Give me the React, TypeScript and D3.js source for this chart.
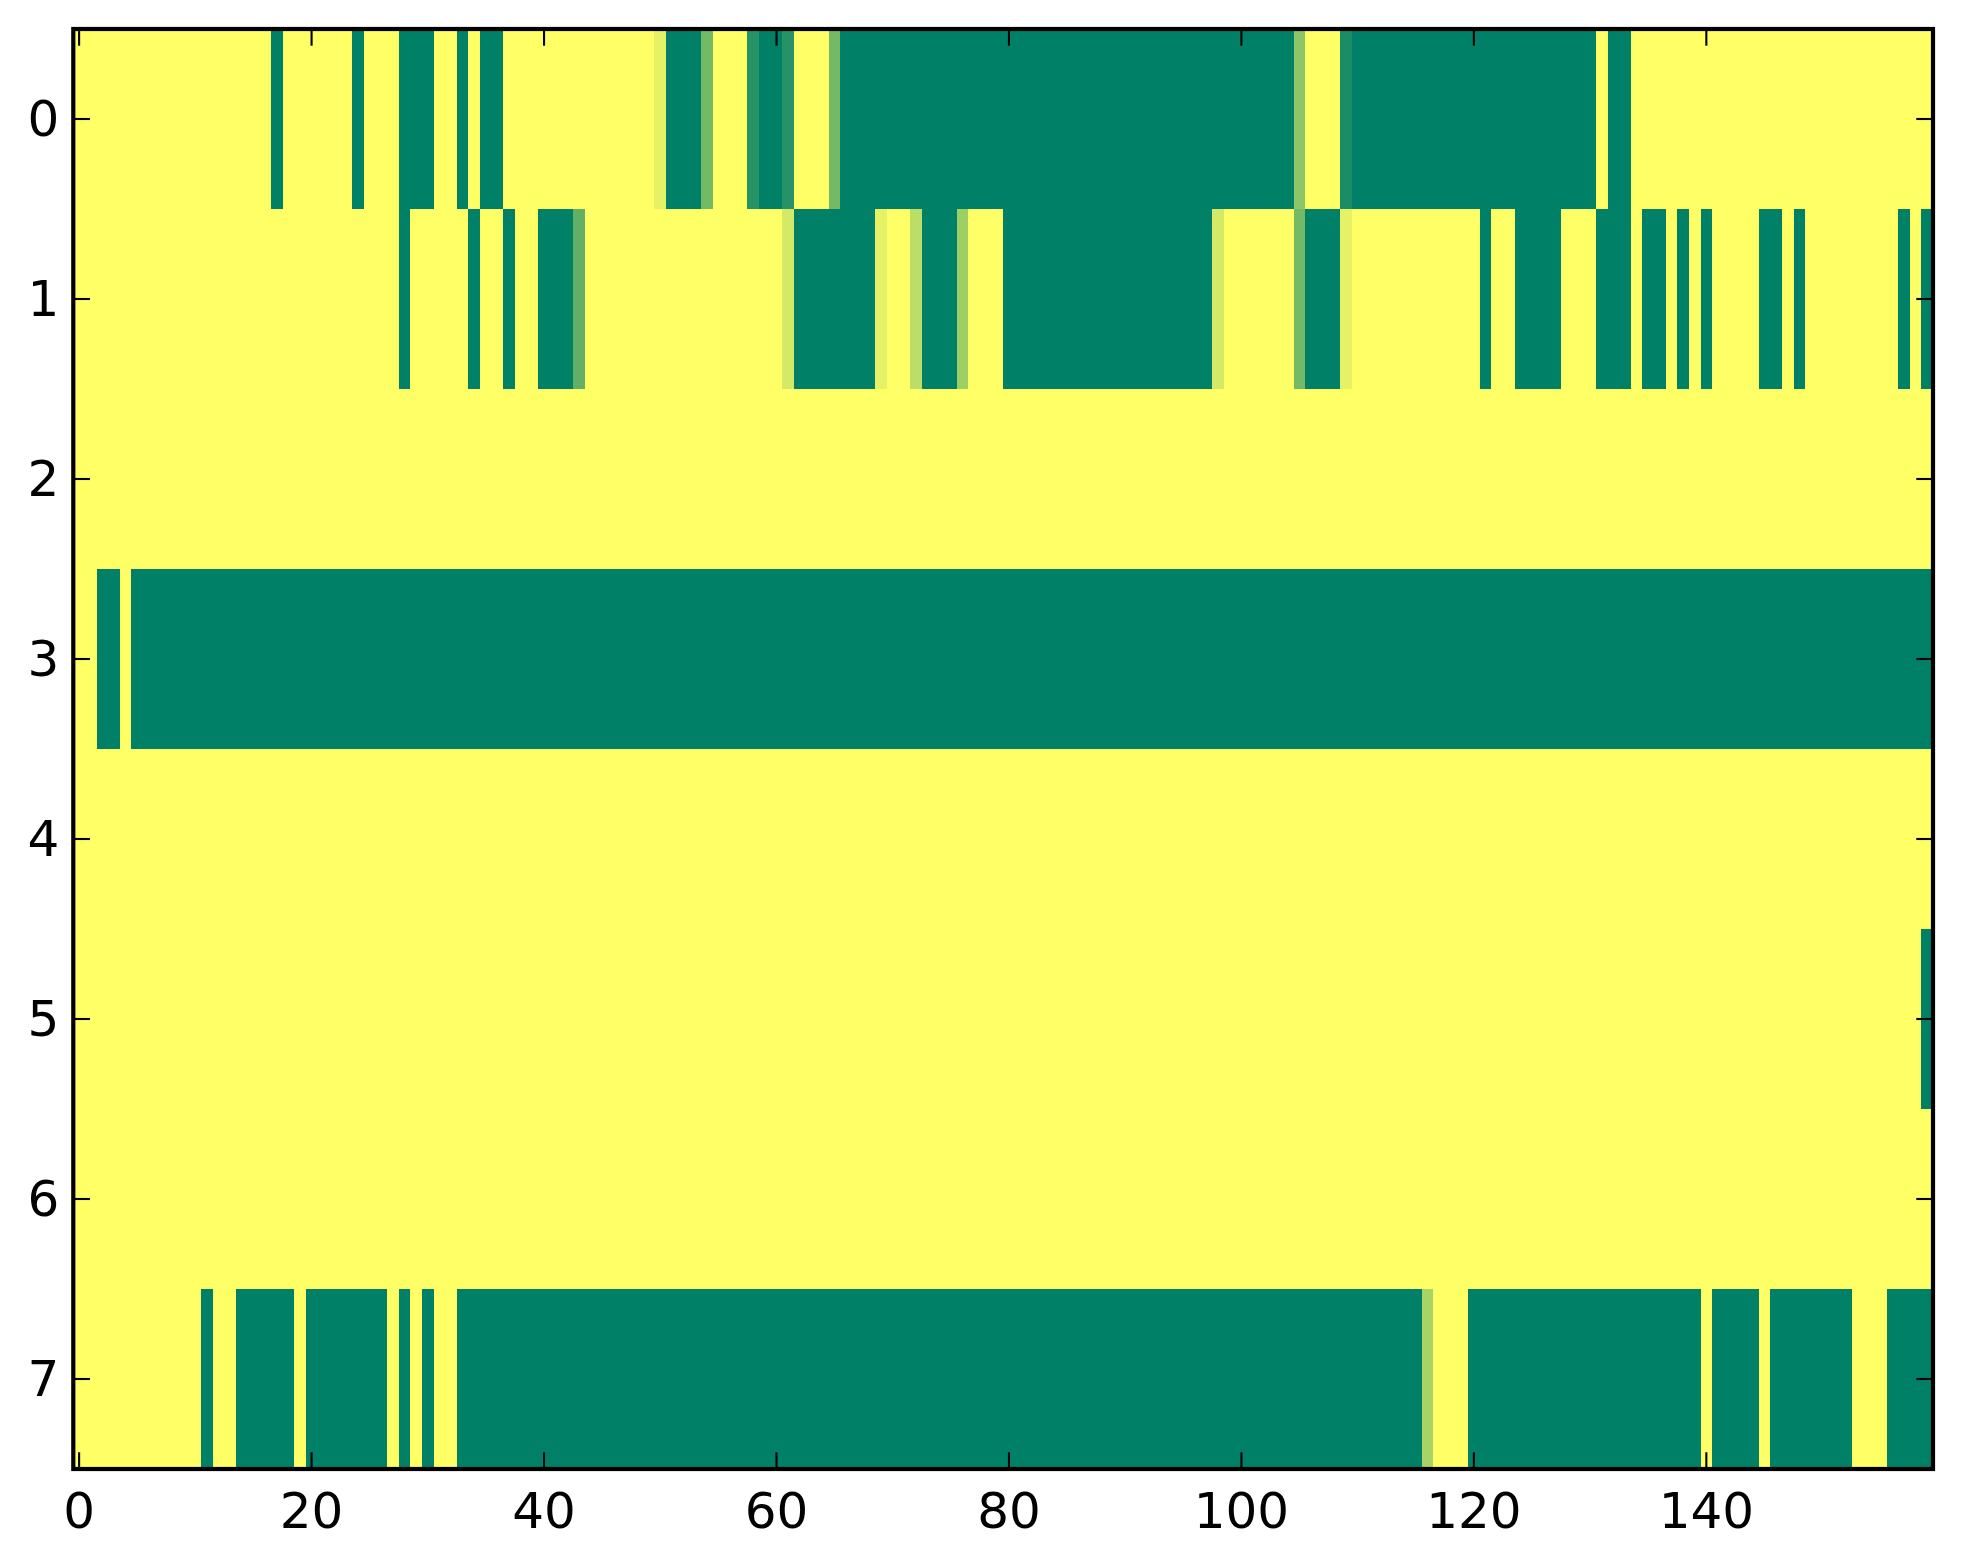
import React from "react";
import * as d3 from "d3";

// one array per image row, 160 columns each (0 = yellow, 1 = green)
const row0 = [
  0, 0, 0, 0, 0, 0, 0, 0, 0, 0, 0, 0, 0, 0, 0, 0, 0, 1, 0, 0,
  0, 0, 0, 0, 1, 0, 0, 0, 1, 1, 1, 0, 0, 1, 0, 1, 1, 0, 0, 0,
  0, 0, 0, 0, 0, 0, 0, 0, 0, 0, 0.1, 1, 1, 1, 0.55, 0, 0, 0, 0.85, 1,
  1, 0.85, 0, 0, 0, 0.55, 1, 1, 1, 1, 1, 1, 1, 1, 1, 1, 1, 1, 1, 1,
  1, 1, 1, 1, 1, 1, 1, 1, 1, 1, 1, 1, 1, 1, 1, 1, 1, 1, 1, 1,
  1, 1, 1, 1, 1, 0.45, 0, 0, 0, 0.9, 1, 1, 1, 1, 1, 1, 1, 1, 1, 1,
  1, 1, 1, 1, 1, 1, 1, 1, 1, 1, 1, 0, 1, 1, 0, 0, 0, 0, 0, 0,
  0, 0, 0, 0, 0, 0, 0, 0, 0, 0, 0, 0, 0, 0, 0, 0, 0, 0, 0, 0,
];
const row1 = [
  0, 0, 0, 0, 0, 0, 0, 0, 0, 0, 0, 0, 0, 0, 0, 0, 0, 0, 0, 0,
  0, 0, 0, 0, 0, 0, 0, 0, 1, 0, 0, 0, 0, 0, 1, 0, 0, 1, 0, 0,
  1, 1, 1, 0.62, 0, 0, 0, 0, 0, 0, 0, 0, 0, 0, 0, 0, 0, 0, 0, 0,
  0, 0.17, 1, 1, 1, 1, 1, 1, 1, 0.1, 0, 0, 0.26, 1, 1, 1, 0.38, 0, 0, 0,
  1, 1, 1, 1, 1, 1, 1, 1, 1, 1, 1, 1, 1, 1, 1, 1, 1, 1, 0.17, 0,
  0, 0, 0, 0, 0, 0.55, 1, 1, 1, 0.1, 0, 0, 0, 0, 0, 0, 0, 0, 0, 0,
  0, 1, 0, 0, 1, 1, 1, 1, 0, 0, 0, 1, 1, 1, 0, 1, 1, 0, 1, 0,
  1, 0, 0, 0, 0, 1, 1, 0, 1, 0, 0, 0, 0, 0, 0, 0, 0, 1, 0, 1,
];
const row2 = [
  0, 0, 0, 0, 0, 0, 0, 0, 0, 0, 0, 0, 0, 0, 0, 0, 0, 0, 0, 0,
  0, 0, 0, 0, 0, 0, 0, 0, 0, 0, 0, 0, 0, 0, 0, 0, 0, 0, 0, 0,
  0, 0, 0, 0, 0, 0, 0, 0, 0, 0, 0, 0, 0, 0, 0, 0, 0, 0, 0, 0,
  0, 0, 0, 0, 0, 0, 0, 0, 0, 0, 0, 0, 0, 0, 0, 0, 0, 0, 0, 0,
  0, 0, 0, 0, 0, 0, 0, 0, 0, 0, 0, 0, 0, 0, 0, 0, 0, 0, 0, 0,
  0, 0, 0, 0, 0, 0, 0, 0, 0, 0, 0, 0, 0, 0, 0, 0, 0, 0, 0, 0,
  0, 0, 0, 0, 0, 0, 0, 0, 0, 0, 0, 0, 0, 0, 0, 0, 0, 0, 0, 0,
  0, 0, 0, 0, 0, 0, 0, 0, 0, 0, 0, 0, 0, 0, 0, 0, 0, 0, 0, 0,
];
const row3 = [
  0, 0, 1, 1, 0, 1, 1, 1, 1, 1, 1, 1, 1, 1, 1, 1, 1, 1, 1, 1,
  1, 1, 1, 1, 1, 1, 1, 1, 1, 1, 1, 1, 1, 1, 1, 1, 1, 1, 1, 1,
  1, 1, 1, 1, 1, 1, 1, 1, 1, 1, 1, 1, 1, 1, 1, 1, 1, 1, 1, 1,
  1, 1, 1, 1, 1, 1, 1, 1, 1, 1, 1, 1, 1, 1, 1, 1, 1, 1, 1, 1,
  1, 1, 1, 1, 1, 1, 1, 1, 1, 1, 1, 1, 1, 1, 1, 1, 1, 1, 1, 1,
  1, 1, 1, 1, 1, 1, 1, 1, 1, 1, 1, 1, 1, 1, 1, 1, 1, 1, 1, 1,
  1, 1, 1, 1, 1, 1, 1, 1, 1, 1, 1, 1, 1, 1, 1, 1, 1, 1, 1, 1,
  1, 1, 1, 1, 1, 1, 1, 1, 1, 1, 1, 1, 1, 1, 1, 1, 1, 1, 1, 1,
];
const row4 = [
  0, 0, 0, 0, 0, 0, 0, 0, 0, 0, 0, 0, 0, 0, 0, 0, 0, 0, 0, 0,
  0, 0, 0, 0, 0, 0, 0, 0, 0, 0, 0, 0, 0, 0, 0, 0, 0, 0, 0, 0,
  0, 0, 0, 0, 0, 0, 0, 0, 0, 0, 0, 0, 0, 0, 0, 0, 0, 0, 0, 0,
  0, 0, 0, 0, 0, 0, 0, 0, 0, 0, 0, 0, 0, 0, 0, 0, 0, 0, 0, 0,
  0, 0, 0, 0, 0, 0, 0, 0, 0, 0, 0, 0, 0, 0, 0, 0, 0, 0, 0, 0,
  0, 0, 0, 0, 0, 0, 0, 0, 0, 0, 0, 0, 0, 0, 0, 0, 0, 0, 0, 0,
  0, 0, 0, 0, 0, 0, 0, 0, 0, 0, 0, 0, 0, 0, 0, 0, 0, 0, 0, 0,
  0, 0, 0, 0, 0, 0, 0, 0, 0, 0, 0, 0, 0, 0, 0, 0, 0, 0, 0, 0,
];
const row5 = [
  0, 0, 0, 0, 0, 0, 0, 0, 0, 0, 0, 0, 0, 0, 0, 0, 0, 0, 0, 0,
  0, 0, 0, 0, 0, 0, 0, 0, 0, 0, 0, 0, 0, 0, 0, 0, 0, 0, 0, 0,
  0, 0, 0, 0, 0, 0, 0, 0, 0, 0, 0, 0, 0, 0, 0, 0, 0, 0, 0, 0,
  0, 0, 0, 0, 0, 0, 0, 0, 0, 0, 0, 0, 0, 0, 0, 0, 0, 0, 0, 0,
  0, 0, 0, 0, 0, 0, 0, 0, 0, 0, 0, 0, 0, 0, 0, 0, 0, 0, 0, 0,
  0, 0, 0, 0, 0, 0, 0, 0, 0, 0, 0, 0, 0, 0, 0, 0, 0, 0, 0, 0,
  0, 0, 0, 0, 0, 0, 0, 0, 0, 0, 0, 0, 0, 0, 0, 0, 0, 0, 0, 0,
  0, 0, 0, 0, 0, 0, 0, 0, 0, 0, 0, 0, 0, 0, 0, 0, 0, 0, 0, 1,
];
const row6 = [
  0, 0, 0, 0, 0, 0, 0, 0, 0, 0, 0, 0, 0, 0, 0, 0, 0, 0, 0, 0,
  0, 0, 0, 0, 0, 0, 0, 0, 0, 0, 0, 0, 0, 0, 0, 0, 0, 0, 0, 0,
  0, 0, 0, 0, 0, 0, 0, 0, 0, 0, 0, 0, 0, 0, 0, 0, 0, 0, 0, 0,
  0, 0, 0, 0, 0, 0, 0, 0, 0, 0, 0, 0, 0, 0, 0, 0, 0, 0, 0, 0,
  0, 0, 0, 0, 0, 0, 0, 0, 0, 0, 0, 0, 0, 0, 0, 0, 0, 0, 0, 0,
  0, 0, 0, 0, 0, 0, 0, 0, 0, 0, 0, 0, 0, 0, 0, 0, 0, 0, 0, 0,
  0, 0, 0, 0, 0, 0, 0, 0, 0, 0, 0, 0, 0, 0, 0, 0, 0, 0, 0, 0,
  0, 0, 0, 0, 0, 0, 0, 0, 0, 0, 0, 0, 0, 0, 0, 0, 0, 0, 0, 0,
];
const row7 = [
  0, 0, 0, 0, 0, 0, 0, 0, 0, 0, 0, 1, 0, 0, 1, 1, 1, 1, 1, 0,
  1, 1, 1, 1, 1, 1, 1, 0, 1, 0, 1, 0, 0, 1, 1, 1, 1, 1, 1, 1,
  1, 1, 1, 1, 1, 1, 1, 1, 1, 1, 1, 1, 1, 1, 1, 1, 1, 1, 1, 1,
  1, 1, 1, 1, 1, 1, 1, 1, 1, 1, 1, 1, 1, 1, 1, 1, 1, 1, 1, 1,
  1, 1, 1, 1, 1, 1, 1, 1, 1, 1, 1, 1, 1, 1, 1, 1, 1, 1, 1, 1,
  1, 1, 1, 1, 1, 1, 1, 1, 1, 1, 1, 1, 1, 1, 1, 1, 0.34, 0, 0, 0,
  1, 1, 1, 1, 1, 1, 1, 1, 1, 1, 1, 1, 1, 1, 1, 1, 1, 1, 1, 1,
  0, 1, 1, 1, 1, 0, 1, 1, 1, 1, 1, 1, 1, 0, 0, 0, 1, 1, 1, 1,
];

const rows = [row0, row1, row2, row3, row4, row5, row6, row7];
const xTicks = [0, 20, 40, 60, 80, 100, 120, 140];
const yTicks = [0, 1, 2, 3, 4, 5, 6, 7];

const W = 1963;
const H = 1564;
const left = 73.3;
const right = 1933;
const top = 29;
const bottom = 1469;
const tickLen = 16.7;
const font = "'DejaVu Sans', sans-serif";

export default function App() {
  const nCols = row0.length;
  const x = d3.scaleLinear().domain([-0.5, nCols - 0.5]).range([left, right]);
  const y = d3.scaleLinear().domain([-0.5, rows.length - 0.5]).range([top, bottom]);
  // summer_r: 0 -> yellow, 1 -> green
  const color = d3.scaleLinear<string>().domain([0, 1]).range(["#ffff66", "#008066"]);

  return (
    <>
      <style>{"body{margin:0}"}</style>
      <svg width={W} height={H} style={{ display: "block", background: "#fff" }}>
        <g shapeRendering="crispEdges">
          {rows.map((r, ri) =>
            r.map((v, ci) => (
              <rect
                key={`${ri}-${ci}`}
                x={x(ci - 0.5)}
                y={y(ri - 0.5)}
                width={x(ci + 0.5) - x(ci - 0.5) + 0.5}
                height={y(ri + 0.5) - y(ri - 0.5) + 0.5}
                fill={color(v)}
              />
            ))
          )}
        </g>
        {xTicks.map((t) => (
          <g key={`xt${t}`} stroke="#000" strokeWidth={2.1}>
            <line x1={x(t)} x2={x(t)} y1={bottom} y2={bottom - tickLen} />
            <line x1={x(t)} x2={x(t)} y1={top} y2={top + tickLen} />
          </g>
        ))}
        {yTicks.map((t) => (
          <g key={`yt${t}`} stroke="#000" strokeWidth={2.1}>
            <line x1={left} x2={left + tickLen} y1={y(t)} y2={y(t)} />
            <line x1={right} x2={right - tickLen} y1={y(t)} y2={y(t)} />
          </g>
        ))}
        <rect
          x={left}
          y={top}
          width={right - left}
          height={bottom - top}
          fill="none"
          stroke="#000"
          strokeWidth={4.2}
        />
        {xTicks.map((t) => (
          <text key={`xl${t}`} x={x(t)} y={bottom + 59} textAnchor="middle" fontFamily={font} fontSize={50} fill="#000">
            {t}
          </text>
        ))}
        {yTicks.map((t) => (
          <text key={`yl${t}`} x={left - 14} y={y(t) + 17} textAnchor="end" fontFamily={font} fontSize={50} fill="#000">
            {t}
          </text>
        ))}
      </svg>
    </>
  );
}
